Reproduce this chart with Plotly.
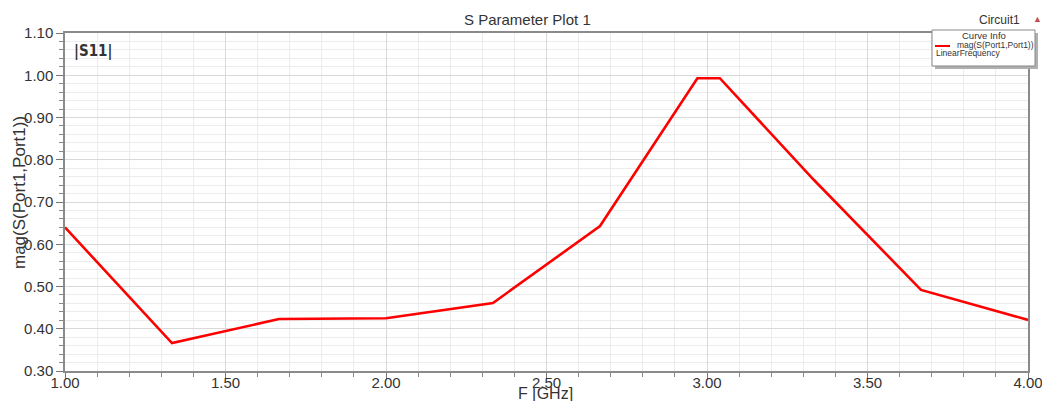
import plotly.graph_objects as go

# ---- data ----
freq_ghz = [1.0, 1.3333, 1.6667, 2.0, 2.3333, 2.6667, 2.97, 3.04, 3.3333, 3.6667, 4.0]
mag_s11 = [0.640, 0.366, 0.423, 0.425, 0.461, 0.643, 0.993, 0.993, 0.752, 0.492, 0.421]
x_ticks = [1.0, 1.5, 2.0, 2.5, 3.0, 3.5, 4.0]
x_tick_labels = ["1.00", "1.50", "2.00", "2.50", "3.00", "3.50", "4.00"]
y_ticks = [0.3, 0.4, 0.5, 0.6, 0.7, 0.8, 0.9, 1.0, 1.1]
y_tick_labels = ["0.30", "0.40", "0.50", "0.60", "0.70", "0.80", "0.90", "1.00", "1.10"]

W, H = 1042, 401
L, R, T, B = 65, 1028, 33, 371


def px(x):
    return (x - L) / (R - L)


def py(y):
    return (B - y) / (B - T)


FONT = "Liberation Sans, Arial, sans-serif"

fig = go.Figure()
fig.add_trace(go.Scatter(
    x=freq_ghz, y=mag_s11, mode="lines",
    line=dict(color="#ff0000", width=2.6),
    showlegend=False, hoverinfo="skip",
))

fig.update_layout(
    width=W, height=H,
    margin=dict(l=L, r=W - R, t=T, b=H - B, autoexpand=False),
    paper_bgcolor="white", plot_bgcolor="white",
    font=dict(family=FONT, color="#333333"),
    showlegend=False,
)

fig.update_xaxes(
    range=[1.0, 4.0], tickvals=x_ticks, ticktext=x_tick_labels,
    tickfont=dict(size=15, color="#333333"),
    ticks="outside", ticklen=6, tickcolor="#777777",
    ticklabeloverflow="allow", ticklabelstandoff=-9,
    automargin=False,
    showline=True, linecolor="#8a8a8a", linewidth=1.5, mirror=True,
    showgrid=True, gridcolor="#d9d9d9", gridwidth=1,
    zeroline=False,
    minor=dict(dtick=0.1, tick0=1.0, ticks="outside", ticklen=4, tickcolor="#888888",
               showgrid=True, gridcolor="#ececec", gridwidth=1),
)
fig.update_yaxes(
    range=[0.3, 1.1], tickvals=y_ticks, ticktext=y_tick_labels,
    tickfont=dict(size=15, color="#333333"),
    ticks="outside", ticklen=7, tickcolor="#777777",
    ticklabeloverflow="allow",
    automargin=False,
    showline=True, linecolor="#8a8a8a", linewidth=1.5, mirror=True,
    showgrid=True, gridcolor="#d9d9d9", gridwidth=1,
    zeroline=False,
    minor=dict(dtick=0.02, tick0=0.3, ticks="outside", ticklen=4, tickcolor="#888888",
               showgrid=True, gridcolor="#ececec", gridwidth=1),
)

# Axis titles
fig.add_annotation(text="F [GHz]", xref="paper", yref="paper",
                   x=px(545), y=py(393), xanchor="center", yanchor="middle",
                   showarrow=False, font=dict(size=16, color="#333333", family=FONT))
fig.add_annotation(text="mag(S(Port1,Port1))", xref="paper", yref="paper",
                   x=px(19), y=py(193), xanchor="center", yanchor="middle",
                   textangle=-90,
                   showarrow=False, font=dict(size=17, color="#333333", family=FONT))

# Title
fig.add_annotation(text="S Parameter Plot 1", xref="paper", yref="paper",
                   x=px(527), y=py(19), xanchor="center", yanchor="middle",
                   showarrow=False, font=dict(size=15, color="#333333", family=FONT))
# Circuit label
fig.add_annotation(text="Circuit1", xref="paper", yref="paper",
                   x=px(1022), y=py(20), xanchor="right", yanchor="middle",
                   showarrow=False, font=dict(size=12, color="#333333", family=FONT))
fig.add_annotation(text="▲", xref="paper", yref="paper",
                   x=px(1037), y=py(19), xanchor="center", yanchor="middle",
                   showarrow=False, font=dict(size=9, color="#c0504d", family=FONT))
# |S11| label
fig.add_annotation(text="<b>|S11|</b>", xref="paper", yref="paper",
                   x=px(72), y=py(52), xanchor="left", yanchor="middle",
                   showarrow=False,
                   font=dict(size=15, color="#333333",
                             family="DejaVu Sans Condensed, Liberation Sans Narrow, Arial Narrow, sans-serif"))

# Curve info box (shadow + box)
fig.add_shape(type="rect", xref="paper", yref="paper",
              x0=px(935), x1=px(1038), y0=py(33), y1=py(69),
              fillcolor="#b0b0b0", line=dict(width=0), layer="above")
fig.add_shape(type="rect", xref="paper", yref="paper",
              x0=px(932), x1=px(1035), y0=py(30), y1=py(66),
              fillcolor="white", line=dict(color="#888888", width=1), layer="above")
fig.add_shape(type="line", xref="paper", yref="paper",
              x0=px(935), x1=px(950), y0=py(46), y1=py(46),
              line=dict(color="#ff0000", width=2), layer="above")
fig.add_annotation(text="Curve Info", xref="paper", yref="paper",
                   x=px(984), y=py(35), xanchor="center", yanchor="middle",
                   showarrow=False, font=dict(size=9.5, color="#333333", family=FONT))
fig.add_annotation(text="mag(S(Port1,Port1))", xref="paper", yref="paper",
                   x=px(955), y=py(45), xanchor="left", yanchor="middle",
                   showarrow=False, font=dict(size=8.5, color="#333333", family=FONT))
fig.add_annotation(text="LinearFrequency", xref="paper", yref="paper",
                   x=px(934), y=py(53), xanchor="left", yanchor="middle",
                   showarrow=False, font=dict(size=8.5, color="#333333", family=FONT))

fig.write_html(
    "out.html",
    config={"displayModeBar": False},
    post_script="document.body.style.margin='0';document.body.style.overflow='hidden';",
)
